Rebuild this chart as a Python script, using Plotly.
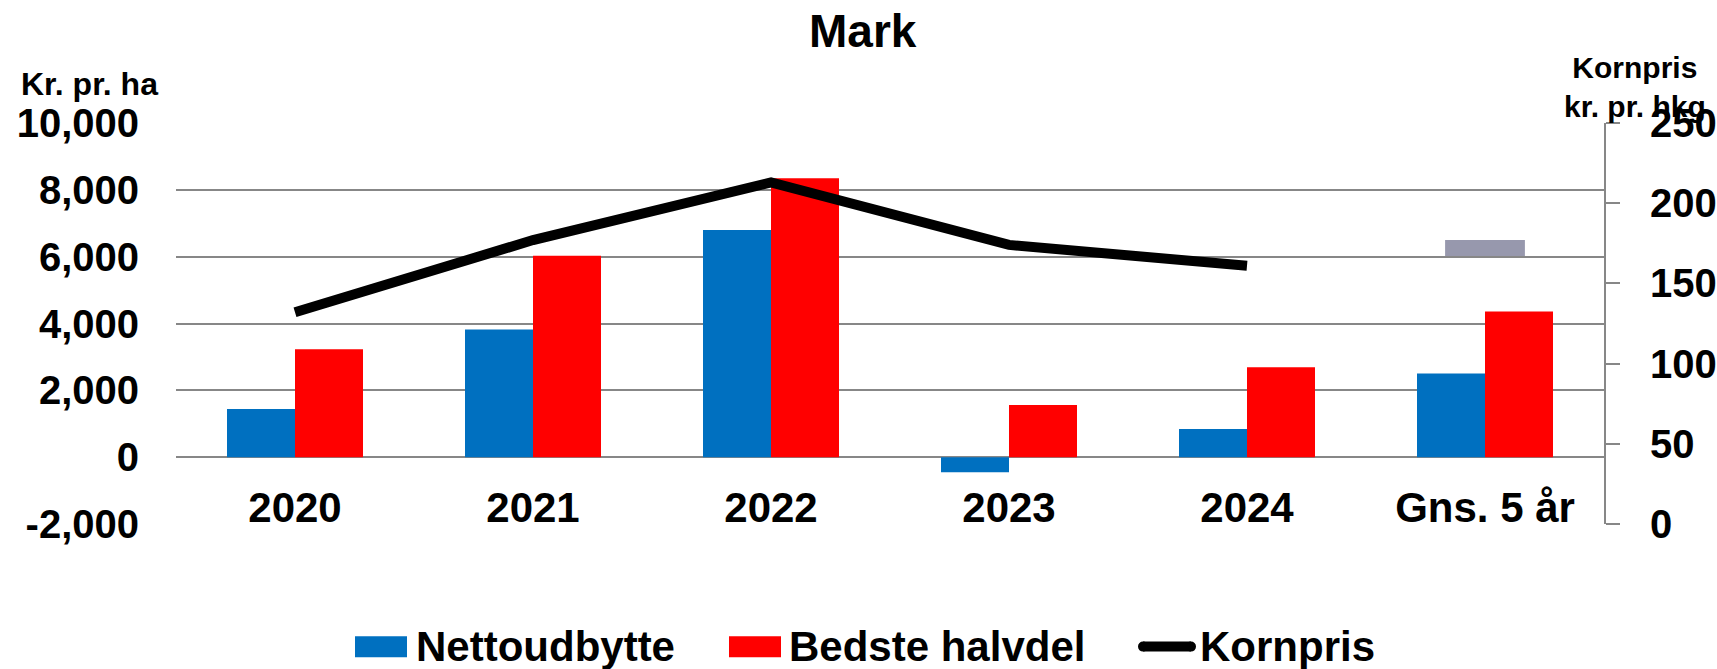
import plotly.graph_objects as go

# ---- data ----
categories = ["2020", "2021", "2022", "2023", "2024", "Gns. 5 år"]
nettoudbytte = [1440, 3820, 6800, -450, 840, 2500]
bedste_halvdel = [3230, 6030, 8350, 1560, 2690, 4360]
korn_years = ["2020", "2021", "2022", "2023", "2024"]
kornpris = [132, 177, 213, 174, 161]
korn_avg_cat = ["Gns. 5 år"]
korn_avg = [172]
series_names = ["Nettoudbytte", "Bedste halvdel", "Kornpris"]
left_ticks = [-2000, 0, 2000, 4000, 6000, 8000, 10000]
left_tick_text = ["-2,000", "0", "2,000", "4,000", "6,000", "8,000", "10,000"]
right_ticks = [0, 50, 100, 150, 200, 250]

# ---- layout geometry (pixels) ----
W, H = 1717, 669
L, R, T, B = 176, 1604, 123, 524.3
FONT = "Arial, Liberation Sans, sans-serif"
BLUE, RED, GRID = "#0070C0", "#FF0000", "#878787"


def pxx(p):
    return (p - L) / (R - L)


def pxy(p):
    return (B - p) / (B - T)


fig = go.Figure()
fig.add_trace(go.Bar(x=categories, y=nettoudbytte, name=series_names[0],
                     marker=dict(color=BLUE, line=dict(width=0)), showlegend=False))
fig.add_trace(go.Bar(x=categories, y=bedste_halvdel, name=series_names[1],
                     marker=dict(color=RED, line=dict(width=0)), showlegend=False))
fig.add_trace(go.Scatter(x=korn_years, y=kornpris, name=series_names[2], yaxis="y2",
                         mode="lines", line=dict(color="black", width=10),
                         showlegend=False))
fig.add_trace(go.Scatter(x=korn_avg_cat, y=korn_avg, yaxis="y2", mode="markers",
                         marker=dict(symbol="line-ew", size=57,
                                     line=dict(color="#9798AD", width=16)),
                         showlegend=False))

zero_pos = (0 - left_ticks[0]) / (left_ticks[-1] - left_ticks[0])

fig.update_layout(
    template="none",
    width=W, height=H,
    margin=dict(l=L, r=W - R, t=T, b=H - B, pad=0, autoexpand=False),
    paper_bgcolor="white", plot_bgcolor="white",
    barmode="group", bargap=0.4286, bargroupgap=0,
    font=dict(family=FONT, color="black"),
    showlegend=False,
    xaxis=dict(type="category", anchor="free", position=zero_pos, automargin=False,
               showgrid=False, showline=False, zeroline=False, ticks="",
               tickfont=dict(size=42, family=FONT, weight="bold"),
               ticklabelstandoff=22),
    yaxis=dict(range=[left_ticks[0], left_ticks[-1]], tickvals=left_ticks,
               ticktext=left_tick_text, automargin=False,
               showgrid=True, gridcolor=GRID, gridwidth=2,
               zeroline=False, showline=False, ticks="",
               tickfont=dict(size=40, family=FONT, weight="bold"),
               ticklabelstandoff=36),
    yaxis2=dict(range=[right_ticks[0], right_ticks[-1]], tickvals=right_ticks,
                overlaying="y", side="right", anchor="x", automargin=False,
                showgrid=False, zeroline=False, showline=True,
                linecolor=GRID, linewidth=2, ticks="outside", ticklen=14,
                tickwidth=2, tickcolor=GRID,
                tickfont=dict(size=40, family=FONT, weight="bold"),
                ticklabelstandoff=22),
)

ann = []
ann.append(dict(text="Mark", x=pxx(863), y=pxy(31), xref="paper", yref="paper",
                xanchor="center", yanchor="middle", showarrow=False,
                font=dict(size=46, family=FONT, weight="bold")))
ann.append(dict(text="Kr. pr. ha", x=pxx(19), y=pxy(84), xref="paper", yref="paper",
                xanchor="left", yanchor="middle", showarrow=False,
                font=dict(size=32, family=FONT, weight="bold")))
ann.append(dict(text="Kornpris<br>kr. pr. hkg", x=pxx(1635), y=pxy(87), xref="paper",
                yref="paper", xanchor="center", yanchor="middle", showarrow=False,
                align="center",
                font=dict(size=30, family=FONT, weight="bold")))

shapes = []
LEG_Y = 647
LEG_FONT = 42
# legend item 1
shapes.append(dict(type="rect", xref="paper", yref="paper", x0=pxx(355), x1=pxx(407),
                   y0=pxy(657.7), y1=pxy(636.7), fillcolor=BLUE, line=dict(width=0)))
ann.append(dict(text=series_names[0], x=pxx(414), y=pxy(LEG_Y), xref="paper", yref="paper",
                xanchor="left", yanchor="middle", showarrow=False,
                font=dict(size=LEG_FONT, family=FONT, weight="bold")))
# legend item 2
shapes.append(dict(type="rect", xref="paper", yref="paper", x0=pxx(729), x1=pxx(781),
                   y0=pxy(657.7), y1=pxy(636.7), fillcolor=RED, line=dict(width=0)))
ann.append(dict(text=series_names[1], x=pxx(787), y=pxy(LEG_Y), xref="paper", yref="paper",
                xanchor="left", yanchor="middle", showarrow=False,
                font=dict(size=LEG_FONT, family=FONT, weight="bold")))
# legend item 3 (line sample with rounded ends)
shapes.append(dict(type="line", xref="paper", yref="paper", x0=pxx(1143), x1=pxx(1191),
                   y0=pxy(LEG_Y), y1=pxy(LEG_Y), line=dict(color="black", width=10)))
for cx in (1143, 1191):
    shapes.append(dict(type="circle", xref="paper", yref="paper",
                       x0=pxx(cx - 5), x1=pxx(cx + 5), y0=pxy(LEG_Y + 5), y1=pxy(LEG_Y - 5),
                       fillcolor="black", line=dict(width=0)))
ann.append(dict(text=series_names[2], x=pxx(1198), y=pxy(LEG_Y), xref="paper", yref="paper",
                xanchor="left", yanchor="middle", showarrow=False,
                font=dict(size=LEG_FONT, family=FONT, weight="bold")))

fig.update_layout(annotations=ann, shapes=shapes)
fig.write_html(
    "out.html",
    config={"displayModeBar": False},
    post_script="document.body.style.margin='0';document.body.style.overflow='hidden';",
)
